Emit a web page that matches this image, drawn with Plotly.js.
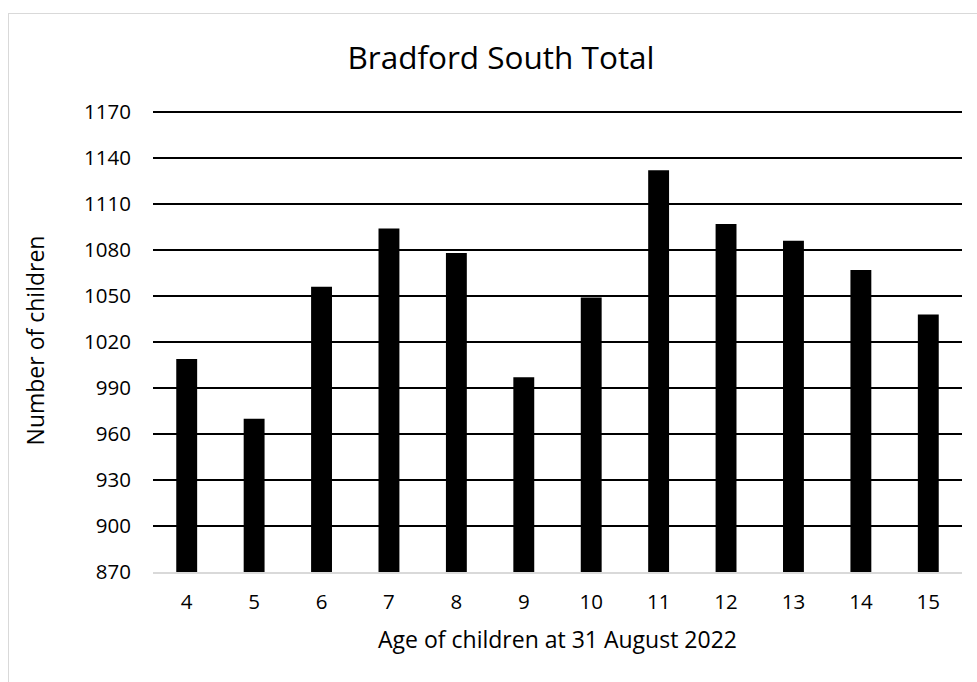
<!DOCTYPE html>
<html>
<head>
<meta charset="utf-8">
<script src="https://cdn.plot.ly/plotly-3.0.1.min.js"></script>
<style>
html,body{margin:0;padding:0;background:#fff;overflow:hidden;}
#chart{width:977px;height:682px;position:absolute;left:0;top:0;}
#frame{position:absolute;left:8px;top:13px;width:1000px;height:700px;border:1.5px solid #d9d9d9;pointer-events:none;}
</style>
</head>
<body>
<div id="chart"></div>
<div id="frame"></div>
<script>
const ages = ["4","5","6","7","8","9","10","11","12","13","14","15"];
const children = [1009, 970, 1056, 1094, 1078, 997, 1049, 1132, 1097, 1086, 1067, 1038];
const yTicks = [870, 900, 930, 960, 990, 1020, 1050, 1080, 1110, 1140, 1170];

const FONT = "'Open Sans', 'Liberation Sans', sans-serif";

const trace = {
  type: 'bar',
  x: ages,
  y: children,
  marker: {color: '#000000', line: {width: 0}},
  hoverinfo: 'x+y'
};

const layout = {
  width: 977,
  height: 682,
  margin: {l: 153, r: 15, t: 109, b: 110},
  paper_bgcolor: '#ffffff',
  plot_bgcolor: '#ffffff',
  bargap: 0.69,
  showlegend: false,
  font: {family: FONT, color: '#000000'},
  title: {
    text: 'Bradford South Total',
    font: {family: FONT, size: 31.5, color: '#000000'},
    x: 501/977, xref: 'container', xanchor: 'center',
    y: 1 - 58/682, yref: 'container', yanchor: 'middle'
  },
  xaxis: {
    type: 'category',
    showgrid: false,
    showline: true,
    linecolor: '#d9d9d9',
    linewidth: 1.5,
    ticks: '',
    tickfont: {family: FONT, size: 20.5, color: '#000000'},
    ticklabelstandoff: 11,
    title: {text: 'Age of children at 31 August 2022', font: {family: FONT, size: 23, color: '#000000'}, standoff: 18},
    fixedrange: true
  },
  yaxis: {
    range: [870, 1172],
    tickvals: yTicks,
    ticktext: yTicks.map(String),
    showgrid: true,
    gridcolor: '#000000',
    gridwidth: 1.5,
    zeroline: false,
    showline: false,
    ticks: '',
    tickfont: {family: FONT, size: 20.5, color: '#000000'},
    ticklabelstandoff: 21,
    title: {text: 'Number of children', font: {family: FONT, size: 23, color: '#000000'}, standoff: 33},
    fixedrange: true
  }
};

Plotly.newPlot('chart', [trace], layout, {displayModeBar: false, staticPlot: true});
</script>
</body>
</html>
